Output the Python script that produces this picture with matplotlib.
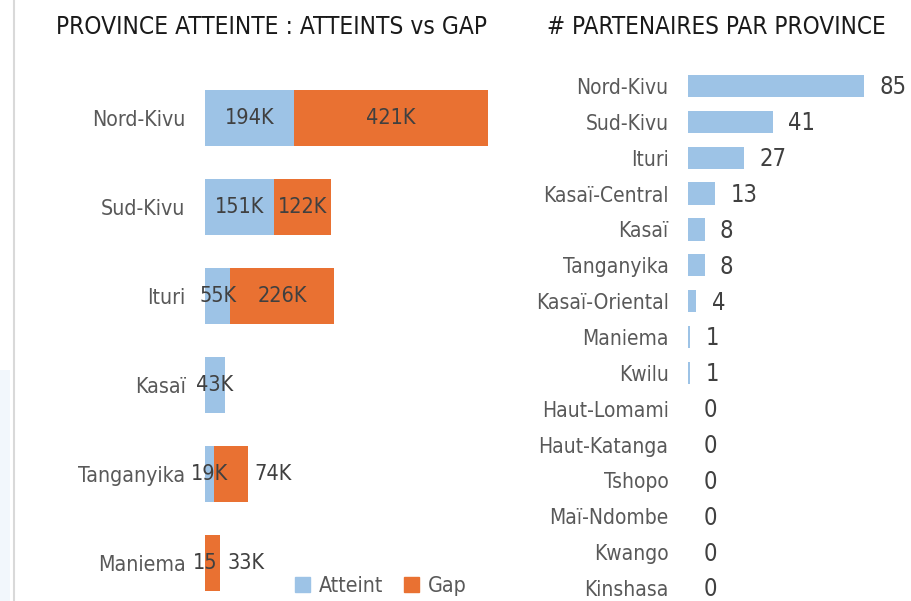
import matplotlib.pyplot as plt
from matplotlib.patches import Rectangle

# left chart: reached people vs remaining gap per province
provinces_reach = ["Nord-Kivu", "Sud-Kivu", "Ituri", "Kasaï", "Tanganyika", "Maniema"]
atteint = [194000, 151000, 55000, 43000, 19000, 15]
gap = [421000, 122000, 226000, 0, 74000, 33000]

# right chart: number of partners per province
provinces_part = ["Nord-Kivu", "Sud-Kivu", "Ituri", "Kasaï-Central", "Kasaï", "Tanganyika",
                  "Kasaï-Oriental", "Maniema", "Kwilu", "Haut-Lomami", "Haut-Katanga",
                  "Tshopo", "Maï-Ndombe", "Kwango", "Kinshasa"]
partenaires = [85, 41, 27, 13, 8, 8, 4, 1, 1, 0, 0, 0, 0, 0, 0]

BLUE = "#9DC3E6"
ORANGE = "#E97132"
TXT = "#404040"
TICK = "#595959"

plt.rcParams["font.family"] = ["DejaVu Sans"]
plt.rcParams["font.stretch"] = "condensed"

W, H = 912, 601
fig = plt.figure(figsize=(W / 100, H / 100), dpi=100)


def fmt(v):
    # excel-like short labels, small numbers stay raw
    return f"{v / 1000:.0f}K" if v >= 1000 else f"{v:.0f}"


# ---- left chart ----
ax1 = fig.add_axes([205 / W, 1 - 607.5 / H, 322 / W, (607.5 - 73.5) / H])
ypos = range(len(provinces_reach))
ax1.barh(ypos, atteint, height=0.63, color=BLUE)
ax1.barh(ypos, gap, left=atteint, height=0.63, color=ORANGE)
ax1.set_xlim(0, 700000)
ax1.set_ylim(len(provinces_reach) - 0.5, -0.5)
ax1.set_yticks(list(ypos))
ax1.set_yticklabels(provinces_reach, fontsize=15.3, color=TICK)
ax1.tick_params(axis="y", length=0, pad=14)
ax1.set_xticks([])
for s in ax1.spines.values():
    s.set_visible(False)

for i, (a, g) in enumerate(zip(atteint, gap)):
    ax1.text(a / 2, i, fmt(a), ha="center", va="center", fontsize=15.5, color=TXT)
    if g > 0:
        if g >= 100000:
            ax1.text(a + g / 2, i, fmt(g), ha="center", va="center", fontsize=15.5, color=TXT)
        else:
            ax1.annotate(fmt(g), (a + g, i), xytext=(5, 0), textcoords="offset points",
                         ha="left", va="center", fontsize=15.5, color=TXT)

handles = [Rectangle((0, 0), 1, 1, color=BLUE), Rectangle((0, 0), 1, 1, color=ORANGE)]
fig.legend(handles, ["Atteint", "Gap"], loc="center", bbox_to_anchor=(381 / W, 1 - 586 / H),
           ncol=2, frameon=False, fontsize=15.3, handlelength=0.7, handleheight=0.7,
           handletextpad=0.4, columnspacing=1.0, labelcolor=TICK)

# ---- right chart ----
ax2 = fig.add_axes([688 / W, 1 - 606 / H, 207 / W, (606 - 68) / H])
ypos2 = range(len(provinces_part))
ax2.barh(ypos2, partenaires, height=0.62, color=BLUE)
ax2.set_xlim(0, 100)
ax2.set_ylim(len(provinces_part) - 0.5, -0.5)
ax2.set_yticks(list(ypos2))
ax2.set_yticklabels(provinces_part, fontsize=15, color=TICK)
ax2.tick_params(axis="y", length=0, pad=14)
ax2.set_xticks([])
for s in ax2.spines.values():
    s.set_visible(False)
for i, v in enumerate(partenaires):
    ax2.annotate(str(v), (v, i), xytext=(11, -1), textcoords="offset points",
                 ha="left", va="center", fontsize=17, color=TXT, annotation_clip=False)

# titles
fig.text(271 / W, 1 - 27 / H, "PROVINCE ATTEINTE : ATTEINTS vs GAP", ha="center", va="center",
         fontsize=17.6, color="#1a1a1a")
fig.text(716 / W, 1 - 27 / H, "# PARTENAIRES PAR PROVINCE", ha="center", va="center",
         fontsize=17.4, color="#1a1a1a")

# thin border on the left and faint panel edge
fig.add_artist(plt.Line2D([14 / W, 14 / W], [0, 1], color="#d9d9d9", lw=1.5))
fig.add_artist(Rectangle((0, 0), 10 / W, 1 - 370 / H, color="#f2f7fc", lw=0))

fig.savefig("out.png", dpi=100)
